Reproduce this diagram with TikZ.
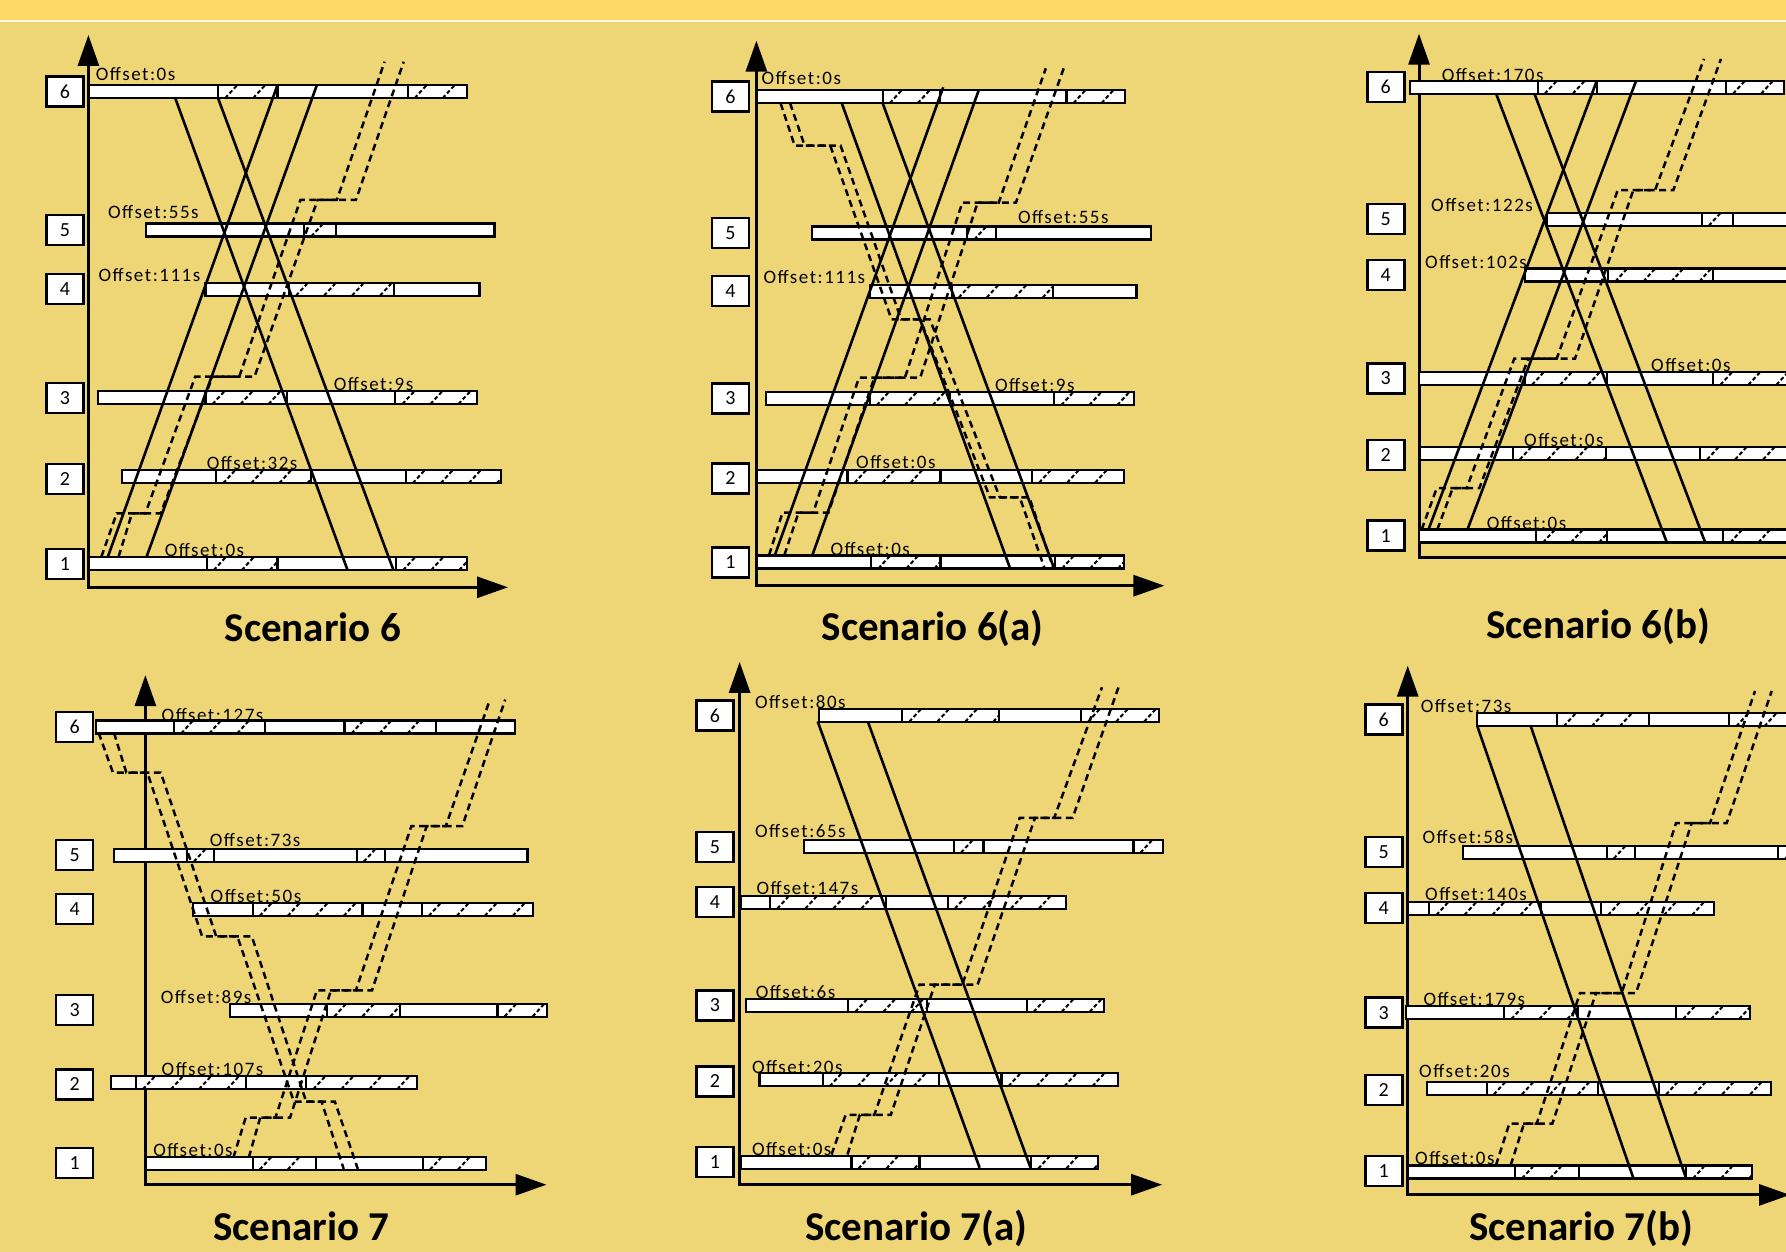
\documentclass[tikz,border=0pt]{standalone}
\usepackage{fontspec}
\setmainfont{Carlito}
\newfontfamily\lblfont[LetterSpace=8]{Carlito}
\usetikzlibrary{arrows.meta}
\definecolor{bgmain}{RGB}{238,214,118}
\definecolor{bgtop}{RGB}{255,217,102}
\tikzset{
 bartip/.tip={Triangle[length=31pt,width=21pt]},
 axisline/.style={line width=3pt},
 barline/.style={draw=black, line width=2.2pt, fill=white},
 hatchline/.style={line width=2pt, dash pattern=on 4pt off 2.5pt},
 solidpath/.style={line width=2.6pt, line join=round},
 dashpath/.style={line width=2.5pt, dash pattern=on 7pt off 4.5pt},
 stationbox/.style={draw, line width=2.4pt, fill=white, minimum width=37pt, minimum height=30pt, inner sep=0pt, font=\fontsize{20}{20}\selectfont},
 offlabel/.style={anchor=west, inner sep=0pt, font=\lblfont\fontsize{19}{19}\selectfont},
 titlelabel/.style={inner sep=0pt, anchor=base, font=\bfseries\fontsize{41}{41}\selectfont},
}
\newcommand{\segW}[3]{\draw[barline] (#1,#3-6.5) rectangle (#2,#3+6.5);}
\newcommand{\segH}[3]{%
 \fill[white] (#1,#3-6.5) rectangle (#2,#3+6.5);
 \begin{scope}
 \clip (#1,#3-6.5) rectangle (#2,#3+6.5);
 \foreach \k in {0,...,4}{\draw[hatchline] ({#1+7+28*\k},#3+6.5) -- ++(12,-13);}
 \end{scope}
 \draw[barline,fill=none] (#1,#3-6.5) rectangle (#2,#3+6.5);}
\begin{document}
\begin{tikzpicture}[x=1pt,y=-1pt]
\useasboundingbox (0,0) rectangle (1786,1252);
\fill[bgmain] (0,0) rectangle (1786,1252);
\fill[bgtop] (0,0) rectangle (1786,20);
\fill[white!85!bgtop] (0,20) rectangle (1786,22);

% ================= Scenario 6 =================
\draw[axisline,bartip-bartip] (88.4,35) -- (88.4,587.3) -- (508,587.3);
\segW{88.4}{218.1}{91.7}\segH{218.1}{277.5}{91.7}\segW{277.5}{407.6}{91.7}\segH{407.6}{467.3}{91.7}
\segW{145.8}{304.2}{230}\segH{304.2}{336}{230}\segW{336}{494.5}{230}
\segW{205.5}{289}{289.2}\segH{289}{394.2}{289.2}\segW{394.2}{479.5}{289.2}
\segW{97.6}{205.5}{397.7}\segH{205.5}{287}{397.7}\segW{287}{395.3}{397.7}\segH{395.3}{476.8}{397.7}
\segW{121.7}{216.2}{476.7}\segH{216.2}{310.8}{476.7}\segW{310.8}{405.7}{476.7}\segH{405.7}{501.3}{476.7}
\segW{88.4}{206.7}{563.7}\segH{206.7}{277.5}{563.7}\segW{277.5}{396.1}{563.7}\segH{396.1}{467.3}{563.7}
\draw[solidpath] (175.3,98.3) -- (347.5,570);
\draw[solidpath] (218.1,98.3) -- (393.4,570);
\draw[solidpath] (107.9,556.7) -- (277.5,85);
\draw[solidpath] (146.6,556.7) -- (316.9,85);
\draw[dashpath] (101.4,556.7)--(116.7,513.3)--(145.4,513.3)--(195.2,376.7)--(239.2,376.7)--(300.4,200)--(336.8,200)--(384.6,61.7);
\draw[dashpath] (118.6,556.7)--(132,513.3)--(160.7,513.3)--(212.4,376.7)--(254.5,376.7)--(317.6,200)--(355.9,200)--(403.7,61.7);
\node[stationbox] (a6) at (65,91.7) {6};
\node[stationbox] (a5) at (65,230.2) {5};
\node[stationbox] (a4) at (65,288.8) {4};
\node[stationbox] (a3) at (65,398) {3};
\node[stationbox] (a2) at (65,478.8) {2};
\node[stationbox] (a1) at (65,563.8) {1};
\node[offlabel] (la6) at (95.7,74) {Offset:0s};
\node[offlabel] (la5) at (107.9,212.3) {Offset:55s};
\node[offlabel] (la4) at (98.4,275) {Offset:111s};
\node[offlabel] (la3) at (333.7,384) {Offset:9s};
\node[offlabel] (la2) at (206.7,463.3) {Offset:32s};
\node[offlabel] (la1) at (164.6,550) {Offset:0s};
\node[titlelabel] (ta) at (312.9,641.5) {Scenario 6};

% ================= Scenario 6(a) =================
\draw[axisline,bartip-bartip] (756.4,40.7) -- (756.4,585.7) -- (1164.4,585.7);
\segW{756.4}{882.7}{96.7}\segH{882.7}{940.1}{96.7}\segW{940.1}{1066.4}{96.7}\segH{1066.4}{1125}{96.7}
\segW{812.3}{967.3}{233}\segH{967.3}{996}{233}\segW{996}{1150.6}{233}
\segW{869.7}{951.6}{291.2}\segH{951.6}{1053}{291.2}\segW{1053}{1136.5}{291.2}
\segW{765.6}{869.7}{398.7}\segH{869.7}{949.7}{398.7}\segW{949.7}{1054.2}{398.7}\segH{1054.2}{1133.8}{398.7}
\segW{756.4}{847.5}{476.3}\segH{847.5}{940.5}{476.3}\segW{940.5}{1032}{476.3}\segH{1032}{1124.2}{476.3}
\segW{756.4}{871.3}{562}\segH{871.3}{940.5}{562}\segW{940.5}{1055}{562}\segH{1055}{1124.2}{562}
\draw[solidpath] (841.8,103.3) -- (1010.2,568.7);
\draw[solidpath] (882.7,103.3) -- (1054.2,568.7);
\draw[solidpath] (774.8,555.3) -- (943.2,87.3);
\draw[solidpath] (812.3,555.3) -- (978.8,90);
\draw[dashpath] (769.1,555)--(782.5,512.7)--(813.1,512.7)--(859,377.7)--(904.9,377.7)--(962.3,202.7)--(998.7,202.7)--(1045.8,68.3);
\draw[dashpath] (784.4,555)--(798.5,512.7)--(828.4,512.7)--(874.3,377.7)--(920.2,377.7)--(977.6,202.7)--(1015.9,202.7)--(1063.7,68.3);
\draw[dashpath] (780.6,103.3)--(794.7,145.7)--(830.3,145.7)--(891.5,319.3)--(920.2,319.3)--(989.9,497.3)--(1019.7,497.3)--(1044.6,568.3);
\draw[dashpath] (790.1,103.3)--(804.7,145.7)--(840.6,145.7)--(901.1,319.3)--(929.8,319.3)--(999.8,497.3)--(1029.3,497.3)--(1053.4,568.3);
\node[stationbox] (b6) at (730.5,96.7) {6};
\node[stationbox] (b5) at (730.5,233.3) {5};
\node[stationbox] (b4) at (730.5,291) {4};
\node[stationbox] (b3) at (730.5,398.3) {3};
\node[stationbox] (b2) at (730.5,478.3) {2};
\node[stationbox] (b1) at (730.5,562.3) {1};
\node[offlabel] (lb6) at (761.4,78.3) {Offset:0s};
\node[offlabel] (lb5) at (1017.8,217.3) {Offset:55s};
\node[offlabel] (lb4) at (763.3,276.7) {Offset:111s};
\node[offlabel] (lb3) at (994.9,385) {Offset:9s};
\node[offlabel] (lb2) at (856,462.3) {Offset:0s};
\node[offlabel] (lb1) at (830.3,549.3) {Offset:0s};
\node[titlelabel] (tb) at (932.7,640) {Scenario 6(a)};

% ================= Scenario 6(b) =================
\draw[axisline,bartip-] (1419,33.7) -- (1419,557.7) -- (1800,557.7);
\segW{1410}{1537.7}{87.3}\segH{1537.7}{1596.7}{87.3}\segW{1596.7}{1726}{87.3}\segH{1726}{1784}{87.3}
\segW{1546.7}{1701.7}{219.3}\segH{1701.7}{1733.3}{219.3}\segW{1733.3}{1800}{219.3}
\segW{1525}{1608.3}{275}\segH{1608.3}{1712.7}{275}\segW{1712.7}{1800}{275}
\segW{1419}{1525}{378.4}\segH{1525}{1606.7}{378.4}\segW{1606.7}{1713.3}{378.4}\segH{1713.3}{1800}{378.4}
\segW{1420}{1512.7}{453.1}\segH{1512.7}{1606}{453.1}\segW{1606}{1700}{453.1}\segH{1700}{1800}{453.1}
\segW{1419}{1536}{536}\segH{1536}{1606.7}{536}\segW{1606.7}{1723.3}{536}\segH{1723.3}{1800}{536}
\draw[solidpath] (1496,93.4) -- (1666.7,542);
\draw[solidpath] (1534.3,93.4) -- (1705,542);
\draw[solidpath] (1428.3,530) -- (1596.7,81);
\draw[solidpath] (1467.3,530) -- (1636,81);
\draw[dashpath] (1421.7,529.5)--(1436.7,488.2)--(1466.7,488.2)--(1514.3,358.6)--(1556.7,358.6)--(1617.7,190.2)--(1655,190.2)--(1704,58.9);
\draw[dashpath] (1437.3,529.5)--(1452.7,488.2)--(1479.3,488.2)--(1528.3,358.6)--(1575,358.6)--(1633.3,190.2)--(1673.3,190.2)--(1721,58.9);
\node[stationbox] (c6) at (1385.8,87.1) {6};
\node[stationbox] (c5) at (1385.8,218.9) {5};
\node[stationbox] (c4) at (1385.8,274.8) {4};
\node[stationbox] (c3) at (1385.8,378.4) {3};
\node[stationbox] (c2) at (1385.8,455) {2};
\node[stationbox] (c1) at (1385.8,535.6) {1};
\node[offlabel] (lc6) at (1441.7,74.9) {Offset:170s};
\node[offlabel] (lc5) at (1431,205.4) {Offset:122s};
\node[offlabel] (lc4) at (1425,261.8) {Offset:102s};
\node[offlabel] (lc3) at (1651,365.3) {Offset:0s};
\node[offlabel] (lc2) at (1524,439.8) {Offset:0s};
\node[offlabel] (lc1) at (1486.7,522.7) {Offset:0s};
\node[titlelabel] (tc) at (1598,638.5) {Scenario 6(b)};

% ================= Scenario 7 =================
\draw[axisline,bartip-bartip] (145.4,675.1) -- (145.4,1184.7) -- (546.5,1184.7);
\segW{95.7}{174.1}{727}\segH{174.1}{265.2}{727}\segW{265.2}{344.4}{727}\segH{344.4}{436.3}{727}\segW{436.3}{514.7}{727}
\segW{113.7}{186.8}{855.2}\segH{186.8}{214.3}{855.2}\segW{214.3}{356.7}{855.2}\segH{356.7}{384.6}{855.2}\segW{384.6}{527.4}{855.2}
\segW{193.3}{252.6}{909.5}\segH{252.6}{362.4}{909.5}\segW{362.4}{421.7}{909.5}\segH{421.7}{533.1}{909.5}
\segW{229.6}{327.2}{1010.1}\segH{327.2}{399.9}{1010.1}\segW{399.9}{497.5}{1010.1}\segH{497.5}{547.3}{1010.1}
\segW{111}{135.9}{1082.8}\segH{135.9}{246.1}{1082.8}\segW{246.1}{306.2}{1082.8}\segH{306.2}{417.1}{1082.8}
\segW{145.4}{252.6}{1163.2}\segH{252.6}{315.7}{1163.2}\segW{315.7}{422.9}{1163.2}\segH{422.9}{486}{1163.2}
\draw[dashpath] (98.7,732.9)--(112.9,772.5)--(147.3,772.5)--(202.1,936.3)--(237.3,936.3)--(293.9,1101.7)--(321.5,1101.7)--(343.7,1168.9);
\draw[dashpath] (114,732.9)--(126.3,772.5)--(160.7,772.5)--(216.2,936.3)--(251.8,936.3)--(306.2,1101.7)--(334.9,1101.7)--(357.8,1168.9);
\draw[dashpath] (233.4,1157.5)--(245.7,1117.5)--(275.5,1117.5)--(316.9,990.3)--(355.9,990.3)--(411.4,826.1)--(445.8,826.1)--(489.9,699.6);
\draw[dashpath] (248.8,1157.5)--(260.2,1117.5)--(290.1,1117.5)--(331,990.3)--(372,990.3)--(426.7,826.1)--(462.3,826.1)--(505.2,699.6);
\node[stationbox] (d6) at (74.6,727) {6};
\node[stationbox] (d5) at (74.6,855) {5};
\node[stationbox] (d4) at (74.6,909.2) {4};
\node[stationbox] (d3) at (74.6,1010.1) {3};
\node[stationbox] (d2) at (74.6,1084.5) {2};
\node[stationbox] (d1) at (74.6,1163.2) {1};
\node[offlabel] (ld6) at (161.5,714.7) {Offset:127s};
\node[offlabel] (ld5) at (209.7,840.4) {Offset:73s};
\node[offlabel] (ld4) at (210.5,896) {Offset:50s};
\node[offlabel] (ld3) at (160.7,997.1) {Offset:89s};
\node[offlabel] (ld2) at (161.5,1068.8) {Offset:107s};
\node[offlabel] (ld1) at (153.1,1150) {Offset:0s};
\node[titlelabel] (td) at (301.4,1240) {Scenario 7};

% ================= Scenario 7(a) =================
\draw[axisline,bartip-bartip] (739.6,661.9) -- (739.6,1184.7) -- (1162.1,1184.7);
\segW{818.8}{902.2}{715.3}\segH{902.2}{998.7}{715.3}\segW{998.7}{1081}{715.3}\segH{1081}{1158.7}{715.3}
\segW{804.3}{953.9}{846.3}\segH{953.9}{983.4}{846.3}\segW{983.4}{1133.4}{846.3}\segH{1133.4}{1163.3}{846.3}
\segW{740.4}{770.2}{902.2}\segH{770.2}{885.8}{902.2}\segW{885.8}{947.8}{902.2}\segH{947.8}{1065.7}{902.2}
\segW{746.1}{848.3}{1005.4}\segH{848.3}{926.7}{1005.4}\segW{926.7}{1026.6}{1005.4}\segH{1026.6}{1103.9}{1005.4}
\segW{759.5}{822.6}{1079.8}\segH{822.6}{938.6}{1079.8}\segW{938.6}{1001.4}{1079.8}\segH{1001.4}{1118.1}{1079.8}
\segW{740.4}{851.4}{1162.1}\segH{851.4}{919.5}{1162.1}\segW{919.5}{1031.2}{1162.1}\segH{1031.2}{1098.2}{1162.1}
\draw[solidpath] (817.7,721.5) -- (979.6,1167.7);
\draw[solidpath] (867.8,721.5) -- (1030.5,1167.7);
\draw[dashpath] (831.5,1154.5)--(845.6,1114.9)--(874.3,1114.9)--(919.5,984.6)--(962.3,984.6)--(1019.7,817.8)--(1054.2,817.8)--(1102,687.2);
\draw[dashpath] (847.5,1154.5)--(859.8,1114.9)--(890.8,1114.9)--(934.8,984.6)--(977.6,984.6)--(1035,817.8)--(1072.6,817.8)--(1118.5,687.2);
\node[stationbox] (e6) at (714.9,715.5) {6};
\node[stationbox] (e5) at (714.9,846.7) {5};
\node[stationbox] (e4) at (714.9,902.2) {4};
\node[stationbox] (e3) at (714.9,1005.4) {3};
\node[stationbox] (e2) at (714.9,1081.5) {2};
\node[stationbox] (e1) at (714.9,1162.1) {1};
\node[offlabel] (le6) at (754.9,702.3) {Offset:80s};
\node[offlabel] (le5) at (754.9,830.6) {Offset:65s};
\node[offlabel] (le4) at (756.4,888.4) {Offset:147s};
\node[offlabel] (le3) at (755.7,992.2) {Offset:6s};
\node[offlabel] (le2) at (751.8,1066.6) {Offset:20s};
\node[offlabel] (le1) at (751.8,1149.2) {Offset:0s};
\node[titlelabel] (te) at (916.4,1240) {Scenario 7(a)};

% ================= Scenario 7(b) =================
\draw[axisline,bartip-bartip] (1407.7,665.7) -- (1407.7,1194.9) -- (1790,1194.9);
\segW{1477.3}{1556.7}{719.8}\segH{1556.7}{1649.3}{719.8}\segW{1649.3}{1729.3}{719.8}\segH{1729.3}{1800}{719.8}
\segW{1462.7}{1606.7}{852.1}\segH{1606.7}{1635}{852.1}\segW{1635}{1778.3}{852.1}\segH{1778.3}{1800}{852.1}
\segW{1407.7}{1429.3}{908.6}\segH{1429.3}{1541}{908.6}\segW{1541}{1601}{908.6}\segH{1601}{1714}{908.6}
\segW{1406}{1504.3}{1012.6}\segH{1504.3}{1578.3}{1012.6}\segW{1578.3}{1676}{1012.6}\segH{1676}{1750}{1012.6}
\segW{1426.7}{1486.7}{1088.1}\segH{1486.7}{1598.3}{1088.1}\segW{1598.3}{1659}{1088.1}\segH{1659}{1770.7}{1088.1}
\segW{1407.7}{1515}{1171.9}\segH{1515}{1579.3}{1171.9}\segW{1579.3}{1686}{1171.9}\segH{1686}{1751.7}{1171.9}
\draw[solidpath] (1477.3,726.1) -- (1633.3,1178);
\draw[solidpath] (1530.7,726.1) -- (1686,1178);
\draw[dashpath] (1496,1165.1)--(1509.3,1123.6)--(1536.7,1123.6)--(1580,993)--(1621.7,993)--(1676,823.1)--(1710,823.1)--(1755,691);
\draw[dashpath] (1510.7,1165.1)--(1524,1123.6)--(1552.3,1123.6)--(1596,993)--(1636,993)--(1691.7,823.1)--(1726.7,823.1)--(1771.7,691);
\node[stationbox] (f6) at (1383.8,719.5) {6};
\node[stationbox] (f5) at (1383.8,851.8) {5};
\node[stationbox] (f4) at (1383.8,908.2) {4};
\node[stationbox] (f3) at (1383.8,1012.6) {3};
\node[stationbox] (f2) at (1383.8,1090) {2};
\node[stationbox] (f1) at (1383.8,1171.1) {1};
\node[offlabel] (lf6) at (1420.7,706.1) {Offset:73s};
\node[offlabel] (lf5) at (1422.3,836.7) {Offset:58s};
\node[offlabel] (lf4) at (1425,894) {Offset:140s};
\node[offlabel] (lf3) at (1423.3,999) {Offset:179s};
\node[offlabel] (lf2) at (1419,1070.7) {Offset:20s};
\node[offlabel] (lf1) at (1415,1158.3) {Offset:0s};
\node[titlelabel] (tf) at (1581.3,1240) {Scenario 7(b)};
\end{tikzpicture}
\end{document}
